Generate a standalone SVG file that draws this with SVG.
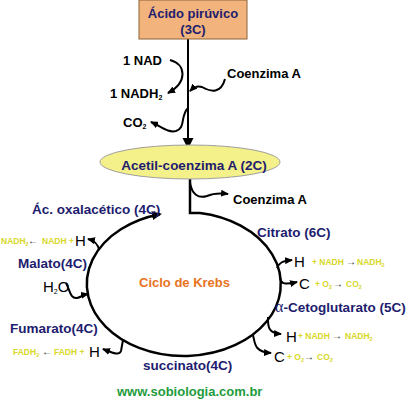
<svg xmlns="http://www.w3.org/2000/svg" width="408" height="401" viewBox="0 0 408 401">
<defs>
<marker id="ah" viewBox="0 0 8 7" refX="7" refY="3.5" markerWidth="8" markerHeight="7" markerUnits="userSpaceOnUse" orient="auto"><path d="M0,0 L8,3.5 L0,7 z" fill="#000"/></marker>
<marker id="ahL" viewBox="0 0 10 9" refX="8" refY="4.5" markerWidth="10" markerHeight="9" markerUnits="userSpaceOnUse" orient="auto"><path d="M0,0 L10,4.5 L0,9 z" fill="#000"/></marker>
</defs>
<style>
text{font-family:"Liberation Sans",Arial,sans-serif}
.lbl{font-weight:bold;font-size:13.5px;fill:#211C6E}
.blk{font-weight:bold;font-size:13px;fill:#000}
.big{font-size:15px;fill:#000}
.y{font-weight:bold;font-size:8.5px;fill:#D8D82A}
.ar{font-size:10px;font-weight:bold;fill:#222}
.sub{font-size:7px}
.ysub{font-size:5.5px}
.ln{fill:none;stroke:#000;stroke-width:2}
.br{fill:none;stroke:#000;stroke-width:2;marker-end:url(#ah)}
</style>
<rect width="408" height="401" fill="#fff"/>

<g id="connectors">
<path class="ln" d="M188,39 V140"/>
<polygon points="182.5,138 193.5,138 188,149" fill="#000"/>
<path class="br" d="M170,60 C186,64 188,82 168,93"/>
<path class="br" d="M225,79 C221,94 211,92 202,87 C197,85 193,88 190,91"/>
<path class="br" d="M188,108 C180,116 186,128 176,131 C168,133 162,127 151,122"/>
<path class="br" d="M190,183 C192,194 198,199 207,196 C214,193 219,193 228,194"/>
<path d="M190,179 V213 H200 A97,72 0 1 1 160,214.2" fill="none" stroke="#000" stroke-width="2.5" marker-end="url(#ahL)"/>
<path class="br" d="M99,250 C98,245 96,241 88,239"/>
<path class="br" d="M66,283 C70,290 70,299 77,298 C81,297 83,295 88,294"/>
<path class="br" d="M123,340 L121,351 C119,356 113,353 103,349"/>
<path class="br" d="M277,268 C279,263 282,261 292,260"/>
<path class="br" d="M280,278 C281,284 285,285 297,282"/>
<path class="br" d="M268,317 C268,325 267,333 281,334"/>
<path class="br" d="M253,335 C255,343 254,352 271,353"/>
</g>

<g id="acido-piruvico">
<rect x="139" y="0" width="108" height="39" fill="#F2B47C" stroke="#8C6239" stroke-width="1"/>
<text class="lbl" x="193" y="18" text-anchor="middle" style="font-size:13px">Ácido pirúvico</text>
<text class="lbl" x="193" y="34" text-anchor="middle" style="font-size:13px">(3C)</text>
</g>

<g id="nad">
<text class="blk" x="123" y="65">1 NAD</text>
</g>
<g id="nadh2">
<text class="blk" x="110" y="98">1 NADH<tspan class="sub" dy="2">2</tspan></text>
</g>
<g id="coenzima-a-in">
<text class="blk" x="227" y="78">Coenzima A</text>
</g>
<g id="co2">
<text class="blk" x="123" y="127">CO<tspan class="sub" dy="2">2</tspan></text>
</g>

<g id="acetil-coa">
<ellipse cx="190" cy="162" rx="90" ry="17" fill="#F4F08A" stroke="#A0A0A0" stroke-width="1"/>
<text class="lbl" x="194" y="170" text-anchor="middle">Acetil-coenzima A (2C)</text>
</g>

<g id="coenzima-a-out">
<text class="blk" x="233" y="204">Coenzima A</text>
</g>

<g id="ciclo">
<text x="139" y="287" style="font-weight:bold;font-size:13px;fill:#E8731E">Ciclo de Krebs</text>
</g>

<g id="oxalacetico">
<text class="lbl" x="32" y="214">Ác. oxalacético (4C)</text>
</g>

<g id="malato-nadh">
<text class="y" x="1" y="244">NADH<tspan class="ysub" dy="1.5">2</tspan></text>
<text class="ar" x="28" y="244">←</text>
<text class="y" x="42" y="244">NADH +</text>
<text class="big" x="75" y="246">H</text>
</g>

<g id="malato">
<text class="lbl" x="18" y="268">Malato(4C)</text>
</g>

<g id="h2o">
<text class="big" x="43" y="292">H<tspan class="sub" dy="2">2</tspan><tspan dy="-2">O</tspan></text>
</g>

<g id="fumarato">
<text class="lbl" x="10" y="333">Fumarato(4C)</text>
</g>

<g id="fumarato-fadh">
<text class="y" x="13" y="355">FADH<tspan class="ysub" dy="1.5">2</tspan></text>
<text class="ar" x="42" y="355">←</text>
<text class="y" x="54" y="355">FADH +</text>
<text class="big" x="89" y="357">H</text>
</g>

<g id="succinato">
<text class="lbl" x="143" y="370">succinato(4C)</text>
</g>

<g id="citrato">
<text class="lbl" x="257" y="237">Citrato (6C)</text>
</g>

<g id="citrato-h">
<text class="big" x="294" y="267">H</text>
<text class="y" x="312" y="265">+ NADH</text>
<text class="ar" x="346" y="265">→</text>
<text class="y" x="357" y="265">NADH<tspan class="ysub" dy="1.5">2</tspan></text>
</g>

<g id="citrato-c">
<text class="big" x="299" y="289">C</text>
<text class="y" x="315" y="287">+ O<tspan class="ysub" dy="1.5">2</tspan></text>
<text class="ar" x="333" y="287">→</text>
<text class="y" x="346" y="287">CO<tspan class="ysub" dy="1.5">2</tspan></text>
</g>

<g id="cetoglutarato">
<text class="lbl" x="275" y="312"><tspan style="font-family:'Liberation Serif',serif;font-weight:normal;font-size:16px">α</tspan>-Cetoglutarato (5C)</text>
</g>

<g id="cetoglutarato-h">
<text class="big" x="286" y="342">H</text>
<text class="y" x="298" y="339">+ NADH</text>
<text class="ar" x="332" y="339">→</text>
<text class="y" x="345" y="339">NADH<tspan class="ysub" dy="1.5">2</tspan></text>
</g>

<g id="cetoglutarato-c">
<text class="big" x="274" y="362">C</text>
<text class="y" x="287" y="360">+ O<tspan class="ysub" dy="1.5">2</tspan></text>
<text class="ar" x="304" y="360">→</text>
<text class="y" x="317" y="360">CO<tspan class="ysub" dy="1.5">2</tspan></text>
</g>

<g id="site">
<text x="117" y="396" style="font-weight:bold;font-size:13px;fill:#1E9B3C">www.sobiologia.com.br</text>
</g>
</svg>
